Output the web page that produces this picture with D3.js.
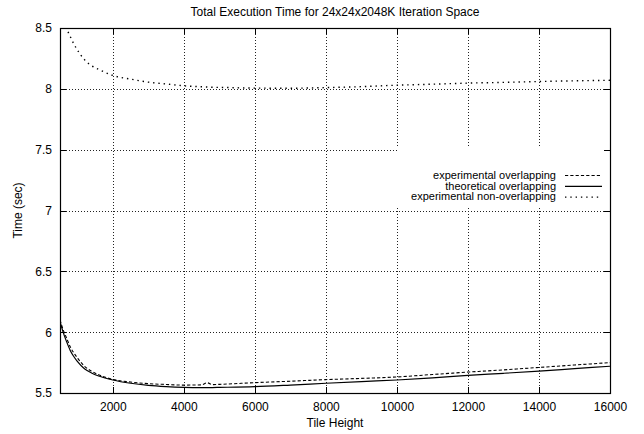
<!DOCTYPE html>
<html>
<head>
<meta charset="utf-8">
<script src="https://cdn.jsdelivr.net/npm/d3@7"></script>
<style>
  body { margin: 0; background: #fff; }
  text { font-family: "Liberation Sans", Arial, Helvetica, sans-serif; fill: #000; }
</style>
</head>
<body>
<div id="chart-area"></div>
<script>
// DATA
var tileHeights = [512, 600, 700, 800, 900, 1000, 1200, 1400, 1600, 2000, 2500, 3000, 3500, 4000, 4500,
    4660, 4800, 5000, 6000, 7000, 8000, 9000, 10000, 11000, 12000, 13000, 14000, 15000, 16000];

var expOverlap = [6.10, 6.02, 5.95, 5.88, 5.83, 5.79, 5.72, 5.68, 5.65, 5.612, 5.59, 5.577, 5.57, 5.565, 5.567,
    5.584, 5.569, 5.571, 5.585, 5.597, 5.61, 5.62, 5.632, 5.652, 5.672, 5.69, 5.71, 5.73, 5.75];

var theoOverlap = [6.09, 6.00, 5.92, 5.85, 5.80, 5.76, 5.70, 5.665, 5.64, 5.607, 5.58, 5.563, 5.553, 5.547, 5.545,
    5.545, 5.545, 5.546, 5.552, 5.565, 5.58, 5.594, 5.607, 5.625, 5.645, 5.662, 5.68, 5.70, 5.72];

var expNonOverlap = [8.58, 8.54, 8.49, 8.43, 8.37, 8.32, 8.24, 8.19, 8.16, 8.11, 8.08, 8.055, 8.04, 8.025, 8.017,
    8.015, 8.013, 8.012, 8.006, 8.005, 8.01, 8.018, 8.03, 8.038, 8.047, 8.053, 8.06, 8.066, 8.07];

var xTicks = [2000, 4000, 6000, 8000, 10000, 12000, 14000, 16000];
var yTicks = [5.5, 6, 6.5, 7, 7.5, 8, 8.5];

var seriesNames = ["experimental overlapping", "theoretical overlapping", "experimental non-overlapping"];
var seriesValues = [expOverlap, theoOverlap, expNonOverlap];
var seriesDash = ["3.2,2.1", null, "1.4,3.9"];
var seriesWidth = [1.1, 1.2, 1.4];

var margin = { left: 60, right: 34, top: 28, bottom: 41 };
var width = 644 - margin.left - margin.right,
    height = 434 - margin.top - margin.bottom;

var svg = d3.select("#chart-area")
    .append("svg")
    .attr("width", 644)
    .attr("height", 434);

var g = svg.append("g")
    .attr("transform", "translate(" + margin.left + ", " + margin.top + ")");

// SCALES
var x = d3.scaleLinear()
    .domain([512, 16000])
    .range([0, width]);

var y = d3.scaleLinear()
    .domain([5.5, 8.5])
    .range([height, 0]);

function px(v) { return Math.round(v) + 0.5; }

// GRID (DOTTED)
g.selectAll(".vgrid")
    .data(xTicks.filter(function (d) { return d < 16000 }))
    .enter().append("line")
    .attr("x1", function (d) { return px(x(d)) })
    .attr("x2", function (d) { return px(x(d)) })
    .attr("y1", 0)
    .attr("y2", height)
    .attr("stroke", "#222")
    .attr("stroke-width", 1)
    .attr("stroke-dasharray", "1,2");

g.selectAll(".hgrid")
    .data(yTicks.filter(function (d) { return d > 5.5 && d < 8.5 }))
    .enter().append("line")
    .attr("x1", 0)
    .attr("x2", width)
    .attr("y1", function (d) { return px(y(d)) })
    .attr("y2", function (d) { return px(y(d)) })
    .attr("stroke", "#222")
    .attr("stroke-width", 1)
    .attr("stroke-dasharray", "1,2");

// KEY AREA CLEARS THE GRID
g.append("rect")
    .attr("x", 397 - margin.left).attr("y", 146 - margin.top)
    .attr("width", 212).attr("height", 22)
    .attr("fill", "#fff");
g.append("rect")
    .attr("x", 395 - margin.left).attr("y", 168 - margin.top)
    .attr("width", 214).attr("height", 39)
    .attr("fill", "#fff");

// TICKS (INWARD, MIRRORED)
var tickLen = 6;
xTicks.forEach(function (d) {
    var xp = px(x(d));
    g.append("line").attr("x1", xp).attr("x2", xp).attr("y1", height).attr("y2", height - tickLen)
        .attr("stroke", "#000");
    g.append("line").attr("x1", xp).attr("x2", xp).attr("y1", 0).attr("y2", tickLen)
        .attr("stroke", "#000");
});
yTicks.forEach(function (d) {
    var yp = px(y(d));
    g.append("line").attr("x1", 0).attr("x2", tickLen).attr("y1", yp).attr("y2", yp)
        .attr("stroke", "#000");
    g.append("line").attr("x1", width).attr("x2", width - tickLen).attr("y1", yp).attr("y2", yp)
        .attr("stroke", "#000");
});

// TICK LABELS VIA D3 AXES (NO TICK LINES)
var xAxisCall = d3.axisBottom(x)
    .tickValues(xTicks)
    .tickSize(0)
    .tickPadding(9)
    .tickFormat(d3.format("d"));
var xAxisGroup = g.append("g")
    .attr("transform", "translate(0," + height + ")")
    .call(xAxisCall);

var yAxisCall = d3.axisLeft(y)
    .tickValues(yTicks)
    .tickSize(0)
    .tickPadding(8)
    .tickFormat(function (d) { return d3.format("")(d) });
var yAxisGroup = g.append("g")
    .call(yAxisCall);

[xAxisGroup, yAxisGroup].forEach(function (ax) {
    ax.select(".domain").remove();
    ax.selectAll("text")
        .attr("font-size", "12px")
        .attr("font-family", "Liberation Sans, Arial, sans-serif")
        .attr("fill", "#000");
});

// CLIP FOR THE CURVES
svg.append("clipPath")
    .attr("id", "plot-clip")
    .append("rect")
    .attr("width", width)
    .attr("height", height);

var line = d3.line()
    .curve(d3.curveMonotoneX);

var curves = g.append("g").attr("clip-path", "url(#plot-clip)");

seriesValues.forEach(function (vals, i) {
    var pts = tileHeights.map(function (h, j) { return [x(h), y(vals[j])] });
    curves.append("path")
        .attr("d", line(pts))
        .attr("fill", "none")
        .attr("stroke", "#000")
        .attr("stroke-width", seriesWidth[i])
        .attr("stroke-dasharray", seriesDash[i]);
});

// BORDER
g.append("rect")
    .attr("x", 0.5)
    .attr("y", 0.5)
    .attr("width", width)
    .attr("height", height)
    .attr("fill", "none")
    .attr("stroke", "#000")
    .attr("stroke-width", 1.2);

// KEY
var key = g.append("g")
    .attr("transform", "translate(" + (556 - margin.left) + "," + (175 - margin.top) + ")");

seriesNames.forEach(function (name, i) {
    var row = key.append("g").attr("transform", "translate(0," + (i * 10.8) + ")");
    row.append("text")
        .attr("x", 0)
        .attr("y", 0)
        .attr("dy", "0.35em")
        .attr("text-anchor", "end")
        .attr("font-size", "11px")
        .text(name);
    row.append("line")
        .attr("x1", 9)
        .attr("x2", 46)
        .attr("y1", 0.5)
        .attr("y2", 0.5)
        .attr("stroke", "#000")
        .attr("stroke-width", seriesWidth[i])
        .attr("stroke-dasharray", seriesDash[i]);
});

// TITLE
svg.append("text")
    .attr("x", margin.left + width / 2)
    .attr("y", 16)
    .attr("font-size", "12px")
    .attr("text-anchor", "middle")
    .text("Total Execution Time for 24x24x2048K Iteration Space");

// X LABEL
svg.append("text")
    .attr("x", margin.left + width / 2)
    .attr("y", 427)
    .attr("font-size", "12px")
    .attr("text-anchor", "middle")
    .text("Tile Height");

// Y LABEL
svg.append("text")
    .attr("x", -(margin.top + height / 2))
    .attr("y", 22)
    .attr("font-size", "12px")
    .attr("text-anchor", "middle")
    .attr("transform", "rotate(-90)")
    .text("Time (sec)");
</script>
</body>
</html>
